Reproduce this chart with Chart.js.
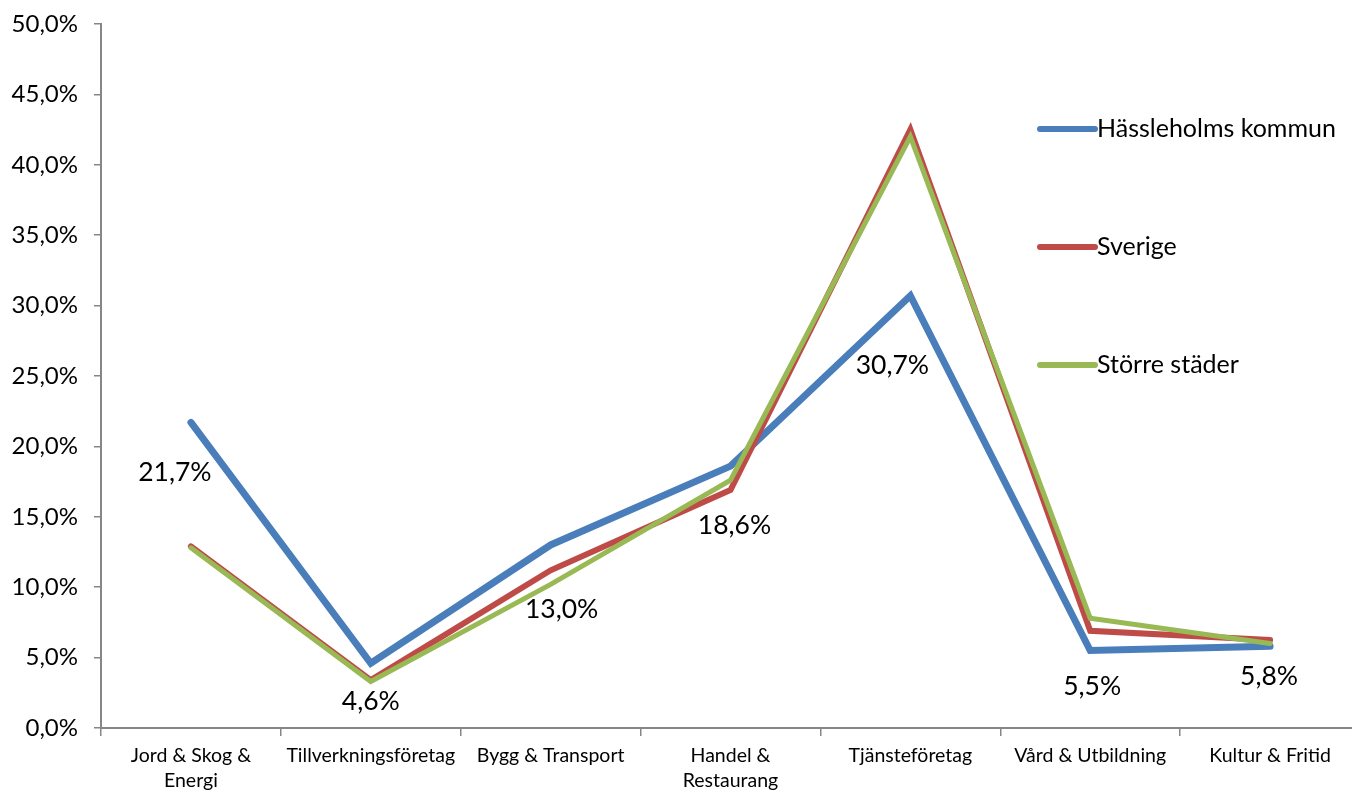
<!DOCTYPE html>
<html>
<head>
<meta charset="utf-8">
<script src="https://cdn.jsdelivr.net/npm/chart.js@4/dist/chart.umd.min.js"></script>
<style>
  html, body { margin: 0; padding: 0; background: #fff; overflow: hidden; }
  #wrap { width: 1360px; height: 792px; position: relative; }
</style>
</head>
<body>
<div id="wrap"><canvas id="c"></canvas></div>
<script>
const categories = [
  ["Jord & Skog &", "Energi"],
  "Tillverkningsföretag",
  "Bygg & Transport",
  ["Handel &", "Restaurang"],
  "Tjänsteföretag",
  "Vård & Utbildning",
  "Kultur & Fritid"
];
const hassleholm = [21.7, 4.6, 13.0, 18.6, 30.7, 5.5, 5.8];
const sverige = [12.9, 3.4, 11.2, 16.9, 42.5, 6.9, 6.25];
const storreStader = [12.8, 3.3, 10.2, 17.6, 42.0, 7.8, 6.0];
const seriesNames = ["Hässleholms kommun", "Sverige", "Större städer"];
const yTickValues = [0, 5, 10, 15, 20, 25, 30, 35, 40, 45, 50];

// label offsets (px) for Hässleholm value labels, relative to each point
const labelOffsets = [[-16, 50], [0, 38], [11, 64], [4, 59], [-18, 70], [2, 36], [-1, 30]];

const colors = ["#4A7EBB", "#BE4B48", "#98B954"];
const fmt = v => v.toFixed(1).replace('.', ',') + '%';
const FONT = "Lato, 'Open Sans', sans-serif";

const dataLabelPlugin = {
  id: 'dataLabels',
  afterDatasetsDraw(chart) {
    const ctx = chart.ctx;
    const meta = chart.getDatasetMeta(0);
    ctx.save();
    ctx.font = "26.5px " + FONT;
    ctx.fillStyle = "#000";
    ctx.textAlign = "center";
    ctx.textBaseline = "middle";
    meta.data.forEach((pt, i) => {
      const o = labelOffsets[i];
      ctx.fillText(fmt(hassleholm[i]), pt.x + o[0], pt.y + o[1]);
    });
    ctx.restore();
  }
};

const legendPlugin = {
  id: 'customLegend',
  afterDraw(chart) {
    const ctx = chart.ctx;
    const a = chart.chartArea;
    const x0 = a.left + 939, x1 = a.left + 994;
    const ys = [a.top + 105, a.top + 223, a.top + 341];
    ctx.save();
    ctx.font = "25px " + FONT;
    ctx.textBaseline = "middle";
    ctx.textAlign = "left";
    seriesNames.forEach((n, i) => {
      ctx.strokeStyle = colors[i];
      ctx.lineWidth = 6;
      ctx.lineCap = "round";
      ctx.beginPath();
      ctx.moveTo(x0, ys[i]);
      ctx.lineTo(x1, ys[i]);
      ctx.stroke();
      ctx.fillStyle = "#000";
      ctx.fillText(n, x1 + 2, ys[i]);
    });
    ctx.restore();
  }
};

new Chart(document.getElementById('c'), {
  type: 'line',
  data: {
    labels: categories,
    datasets: [
      { label: seriesNames[0], data: hassleholm, borderColor: colors[0], borderWidth: 7, order: 3 },
      { label: seriesNames[1], data: sverige, borderColor: colors[1], borderWidth: 6, order: 2 },
      { label: seriesNames[2], data: storreStader, borderColor: colors[2], borderWidth: 5, order: 1 }
    ].map(d => Object.assign(d, { fill: false, tension: 0, pointRadius: 0, pointHoverRadius: 0, borderJoinStyle: 'miter', borderCapStyle: 'round' }))
  },
  options: {
    responsive: true,
    maintainAspectRatio: false,
    animation: false,
    layout: { padding: { top: 24, left: 0, right: 0, bottom: 0 } },
    plugins: { legend: { display: false }, tooltip: { enabled: false } },
    scales: {
      x: {
        offset: true,
        grid: { display: true, offset: true, drawOnChartArea: false, drawTicks: true, tickLength: 8, color: '#868686', lineWidth: 1.5 },
        border: { display: true, color: '#868686', width: 2 },
        ticks: { color: '#000', font: { family: FONT, size: 19.5, lineHeight: 1.28 }, maxRotation: 0, autoSkip: false, padding: 7 },
        afterFit(s) { s.height = 64; s.paddingLeft = 0; s.paddingRight = 0; }
      },
      y: {
        min: 0, max: 50,
        afterBuildTicks(s) { s.ticks = yTickValues.map(v => ({ value: v })); },
        grid: { display: true, drawOnChartArea: false, drawTicks: true, tickLength: 7, color: '#868686', lineWidth: 1.5 },
        border: { display: true, color: '#868686', width: 2 },
        ticks: { color: '#000', font: { family: FONT, size: 24 }, padding: 16, callback: v => fmt(v) },
        afterFit(s) { s.width = 101; s.paddingTop = 0; s.paddingBottom = 0; }
      }
    }
  },
  plugins: [dataLabelPlugin, legendPlugin]
});
</script>
</body>
</html>
